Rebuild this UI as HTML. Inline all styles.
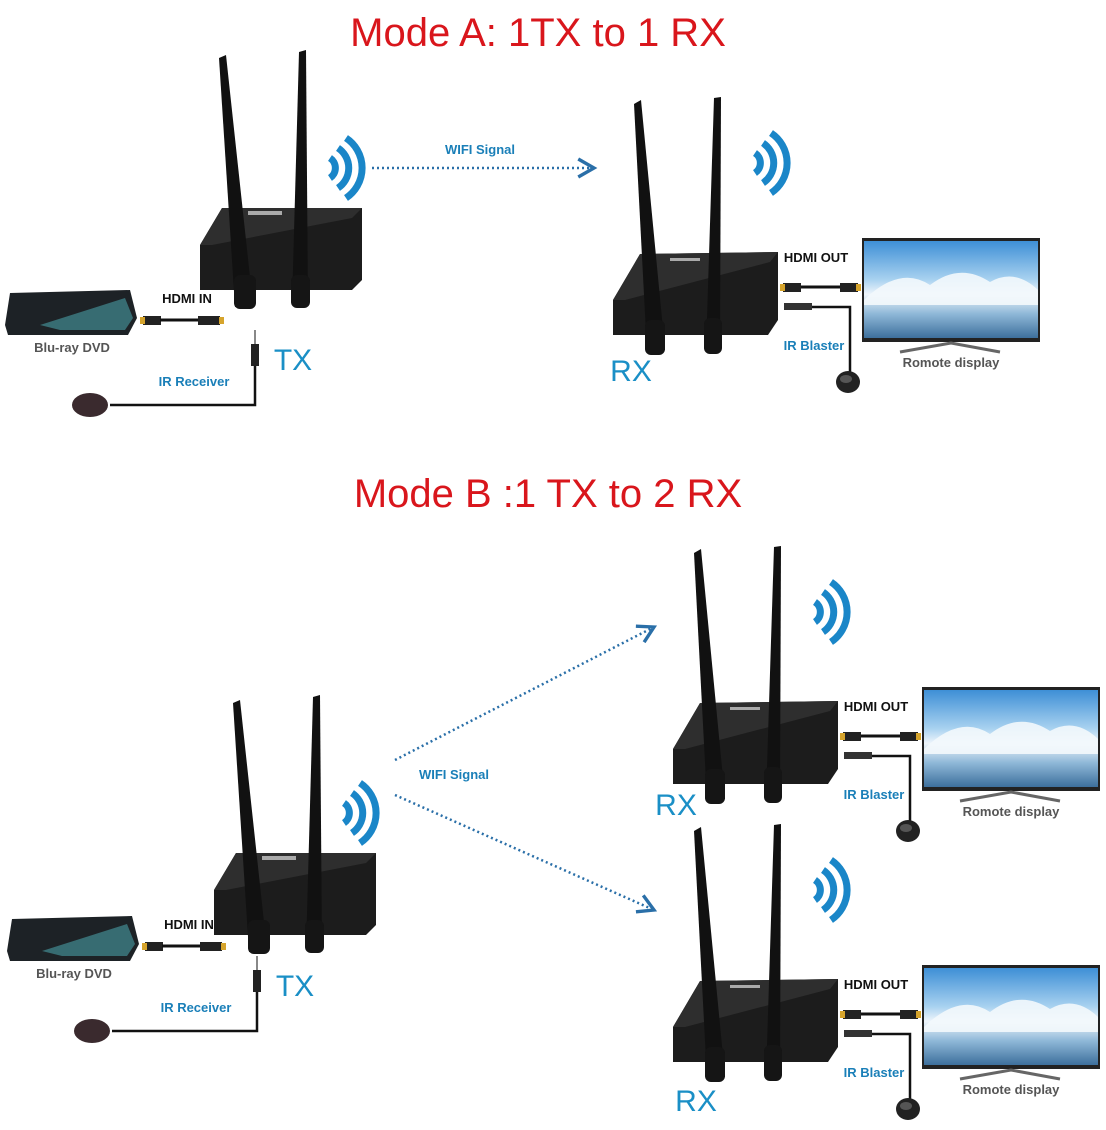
<!DOCTYPE html>
<html><head><meta charset="utf-8"><style>
html,body{margin:0;padding:0;background:#fff}
svg{display:block}
text{font-family:"Liberation Sans",sans-serif}
.lbl{font-size:13px;font-weight:bold;fill:#111}
.blu{font-size:13px;font-weight:bold;fill:#1a7fb8}
.gry{font-size:13px;font-weight:bold;fill:#555}
.big{font-size:30px;fill:#1a8fc6}
.title{font-size:40px;fill:#d9161c}
</style></head><body>
<svg width="1106" height="1130" viewBox="0 0 1106 1130" xmlns="http://www.w3.org/2000/svg">
<defs>
<linearGradient id="sky" x1="0" y1="0" x2="0" y2="1">
<stop offset="0" stop-color="#3e8fd6"/><stop offset="0.4" stop-color="#a9d2f0"/><stop offset="0.55" stop-color="#eef5fb"/><stop offset="0.75" stop-color="#8fb8d8"/><stop offset="1" stop-color="#3d6f9c"/></linearGradient>
<marker id="ar" viewBox="0 0 10 10" refX="8" refY="5" markerWidth="9" markerHeight="9" orient="auto"><path d="M1,1 L8,5 L1,9" fill="none" stroke="#2a6fa8" stroke-width="1.5"/></marker>
<g id="wifi" fill="none" stroke="#1a86c8" stroke-linecap="butt">
<path d="M0,-10 A12,12 0 0 1 0,10" stroke-width="7"/>
<path d="M8,-20 A24,24 0 0 1 8,20" stroke-width="7"/>
<path d="M16,-30 A36,36 0 0 1 16,30" stroke-width="7"/>
</g>
<g id="rx">
<polygon points="613,300 640,254 778,252 778,320 768,335 613,335" fill="#1c1c1c"/>
<polygon points="613,300 640,254 778,252 770,262 625,300" fill="#2e2e2e"/>
<rect x="670" y="258" width="30" height="3" fill="#aaa"/>
<line x1="780" y1="287" x2="858" y2="287" stroke="#111" stroke-width="3"/>
<rect x="783" y="283" width="18" height="9" fill="#222"/><rect x="780" y="284" width="5" height="7" fill="#d6a42c"/>
<rect x="840" y="283" width="18" height="9" fill="#222"/><rect x="856" y="284" width="5" height="7" fill="#d6a42c"/>
<rect x="784" y="303" width="28" height="7" fill="#333"/>
<polyline points="812,307 850,307 850,375" fill="none" stroke="#111" stroke-width="2.5"/>
<ellipse cx="848" cy="382" rx="12" ry="11" fill="#222"/><ellipse cx="846" cy="379" rx="6" ry="4" fill="#555"/>
<polygon points="634,104 641,100 665,350 647,352" fill="#111"/>
<rect x="645" y="320" width="20" height="35" rx="6" fill="#151515"/>
<polygon points="714,98 721,97 720,350 706,350" fill="#111"/>
<rect x="704" y="318" width="18" height="36" rx="6" fill="#151515"/>
<use href="#wifi" x="755" y="163"/>
<rect x="862" y="238" width="178" height="104" fill="#222"/>
<rect x="864" y="241" width="174" height="97" fill="url(#sky)"/>
<path d="M864,300 Q900,265 930,285 Q960,262 990,282 Q1015,268 1038,290 L1038,305 L864,305Z" fill="#f3f8fc" opacity="0.9"/>
<polyline points="900,352 951,343 1000,352" fill="none" stroke="#666" stroke-width="3"/>
<text x="951" y="367" class="gry" text-anchor="middle">Romote display</text>
<text x="816" y="262" class="lbl" text-anchor="middle">HDMI OUT</text>
<text x="814" y="350" class="blu" text-anchor="middle">IR Blaster</text>
</g>
<g id="tx">
<polygon points="200,245 222,208 362,208 362,280 352,290 200,290" fill="#1c1c1c"/>
<polygon points="200,245 222,208 362,208 352,218 212,245" fill="#2e2e2e"/>
<rect x="248" y="211" width="34" height="4" fill="#aaa"/>
<polygon points="219,58 226,55 253,305 235,307" fill="#111"/>
<rect x="234" y="275" width="22" height="34" rx="6" fill="#151515"/>
<polygon points="299,52 306,50 308,305 292,305" fill="#111"/>
<rect x="291" y="275" width="19" height="33" rx="6" fill="#151515"/>
<use href="#wifi" x="330" y="168"/>
</g>
<g id="bd">
<polygon points="10,293 130,290 137,318 128,335 8,335 5,325" fill="#1d2226"/>
<polygon points="40,325 125,298 133,318 125,330 60,330" fill="#3f7f86" opacity="0.8"/>
<rect x="143" y="316" width="18" height="9" fill="#222"/><rect x="140" y="317" width="5" height="7" fill="#d6a42c"/>
<line x1="160" y1="320" x2="200" y2="320" stroke="#111" stroke-width="3"/>
<rect x="198" y="316" width="22" height="9" fill="#222"/><rect x="219" y="317" width="5" height="7" fill="#d6a42c"/>
<line x1="255" y1="330" x2="255" y2="345" stroke="#888" stroke-width="2"/>
<rect x="251" y="344" width="8" height="22" fill="#222"/>
<polyline points="255,366 255,405 110,405" fill="none" stroke="#111" stroke-width="2.5"/>
<ellipse cx="90" cy="405" rx="18" ry="12" fill="#3a2a2e"/>
<text x="72" y="352" class="gry" text-anchor="middle">Blu-ray DVD</text>
<text x="187" y="303" class="lbl" text-anchor="middle">HDMI IN</text>
<text x="194" y="386" class="blu" text-anchor="middle">IR Receiver</text>
<text x="293" y="370" class="big" text-anchor="middle">TX</text>
</g>
</defs>

<text x="538" y="46" class="title" text-anchor="middle">Mode A: 1TX to 1 RX</text>
<use href="#tx"/>
<use href="#bd"/>
<use href="#rx"/>
<text x="631" y="381" class="big" text-anchor="middle">RX</text>
<line x1="372" y1="168" x2="594" y2="168" stroke="#2a6fa8" stroke-width="2.5" stroke-dasharray="2,3" marker-end="url(#ar)"/>
<text x="480" y="154" class="blu" text-anchor="middle" font-size="12">WIFI Signal</text>

<text x="548" y="507" class="title" text-anchor="middle">Mode B :1 TX to 2 RX</text>
<use href="#tx" x="14" y="645"/>
<use href="#bd" x="2" y="626"/>
<use href="#rx" x="60" y="449"/>
<use href="#rx" x="60" y="727"/>
<text x="676" y="815" class="big" text-anchor="middle">RX</text>
<text x="696" y="1111" class="big" text-anchor="middle">RX</text>
<line x1="395" y1="760" x2="654" y2="627" stroke="#2a6fa8" stroke-width="2.5" stroke-dasharray="2,3" marker-end="url(#ar)"/>
<line x1="395" y1="795" x2="654" y2="910" stroke="#2a6fa8" stroke-width="2.5" stroke-dasharray="2,3" marker-end="url(#ar)"/>
<text x="454" y="779" class="blu" text-anchor="middle" font-size="12">WIFI Signal</text>
</svg>
</body></html>
